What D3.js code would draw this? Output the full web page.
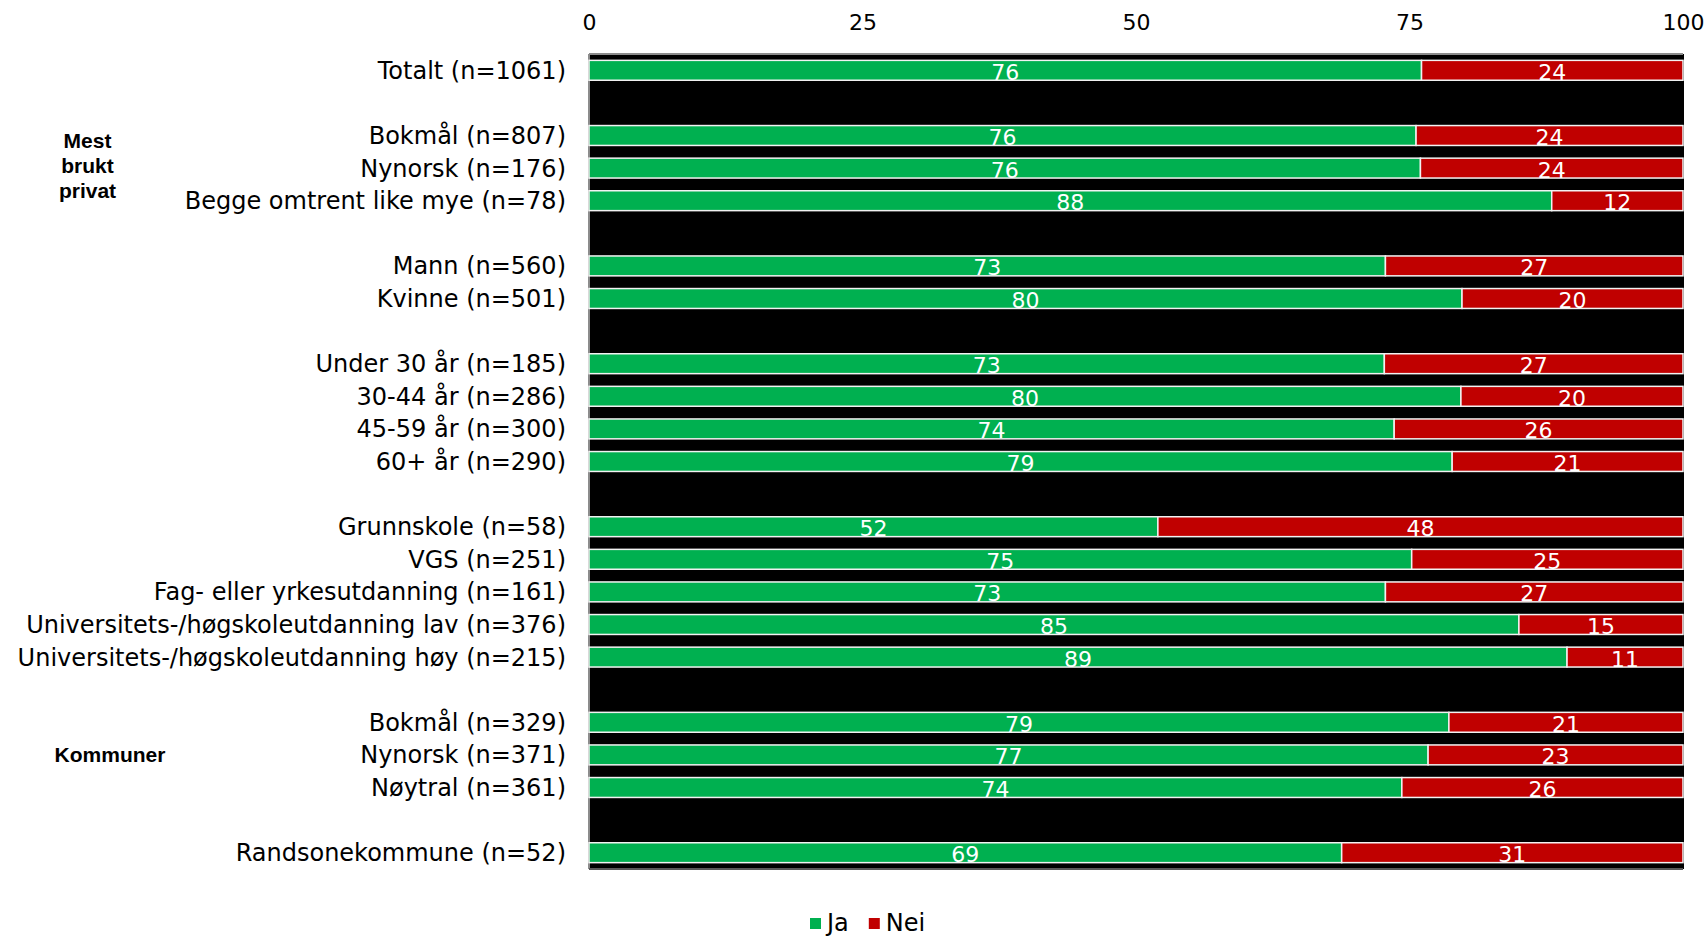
<!DOCTYPE html>
<html>
<head>
<meta charset="utf-8">
<script src="https://cdn.jsdelivr.net/npm/d3@7"></script>
<style>
  html, body { margin: 0; padding: 0; background: #fff; }
  svg { display: block; }
</style>
</head>
<body>
<svg id="chart" width="1706" height="937"></svg>
<script>
const categories = [
  "Totalt (n=1061)",
  "Bokmål (n=807)", "Nynorsk (n=176)", "Begge omtrent like mye (n=78)",
  "Mann (n=560)", "Kvinne (n=501)",
  "Under 30 år (n=185)", "30-44 år (n=286)", "45-59 år (n=300)", "60+ år (n=290)",
  "Grunnskole (n=58)", "VGS (n=251)", "Fag- eller yrkesutdanning (n=161)",
  "Universitets-/høgskoleutdanning lav (n=376)", "Universitets-/høgskoleutdanning høy (n=215)",
  "Bokmål (n=329)", "Nynorsk (n=371)", "Nøytral (n=361)",
  "Randsonekommune (n=52)"
];
const groupOf = [0, 1,1,1, 2,2, 3,3,3,3, 4,4,4,4,4, 5,5,5, 6];
const ja  = [76.1, 75.6, 76.0, 88.0, 72.8, 79.8, 72.7, 79.7, 73.6, 78.9, 52.0, 75.2, 72.8, 85.0, 89.4, 78.6, 76.7, 74.3, 68.8];
const nei = [23.9, 24.4, 24.0, 12.0, 27.2, 20.2, 27.3, 20.3, 26.4, 21.1, 48.0, 24.8, 27.2, 15.0, 10.6, 21.4, 23.3, 25.7, 31.2];
const seriesNames = ["Ja", "Nei"];
const seriesColors = ["#00B050", "#C00000"];
const xTicks = [0, 25, 50, 75, 100];
const sideLabels = [
  { lines: ["Mest", "brukt", "privat"], group: 1 },
  { lines: ["Kommuner"], group: 5 }
];

(function () {
const svg = d3.select("#chart");
const pL = 589, pR = 1683, pT = 54, pB = 869;
const nSlots = categories.length + d3.max(groupOf);
const slotOf = categories.map((c, i) => i + groupOf[i]);

const x = d3.scaleLinear().domain([0, 100]).range([pL, pR]);
const y = d3.scaleBand().domain(d3.range(nSlots)).range([pT, pB]).paddingInner(0.39).paddingOuter(0.195);

// plot background
svg.append("rect").attr("x", pL).attr("y", pT).attr("width", pR - pL + 1).attr("height", pB - pT).attr("fill", "#000");

// axis lines (gray)
svg.append("line").attr("x1", pL).attr("x2", pR).attr("y1", pT).attr("y2", pT).attr("stroke", "#8c8c8c").attr("stroke-width", 2);
svg.append("line").attr("x1", pL).attr("x2", pL).attr("y1", pT).attr("y2", pB).attr("stroke", "#8c8c8c").attr("stroke-width", 2);
svg.append("line").attr("x1", pL).attr("x2", pR).attr("y1", pB).attr("y2", pB).attr("stroke", "#595959").attr("stroke-width", 2);

// top axis tick labels
const xAxis = d3.axisTop(x).tickValues(xTicks).tickSize(0).tickPadding(0).tickFormat(d3.format("d"));
const gx = svg.append("g").attr("transform", "translate(0, 30)").call(xAxis);
gx.select(".domain").remove();
gx.selectAll("text").attr("font-family", "DejaVu Sans, Verdana, sans-serif").attr("font-size", 22).attr("fill", "#000").attr("dy", "0");

// bars
categories.forEach((c, i) => {
  const vals = [ja[i], nei[i]];
  let acc = 0;
  vals.forEach((v, k) => {
    const g = svg.append("g");
    const x0 = x(acc), x1 = x(acc + v);
    g.append("rect")
      .attr("x", x0).attr("y", y(slotOf[i]))
      .attr("width", x1 - x0).attr("height", y.bandwidth())
      .attr("fill", seriesColors[k])
      .attr("stroke", "#F2F2F2").attr("stroke-width", 1.5);
    g.append("text")
      .attr("x", (x0 + x1) / 2).attr("y", y(slotOf[i]) + y.bandwidth() / 2 + 9.5)
      .attr("text-anchor", "middle")
      .attr("font-family", "DejaVu Sans, Verdana, sans-serif").attr("font-size", 22)
      .attr("fill", "#fff")
      .text(d3.format(".0f")(v));
    acc += v;
  });
});

// category labels
svg.append("g").selectAll("text").data(categories).join("text")
  .attr("x", 566).attr("y", (d, i) => y(slotOf[i]) + y.bandwidth() / 2 + 8.5)
  .attr("text-anchor", "end")
  .attr("font-family", "DejaVu Sans, Verdana, sans-serif").attr("font-size", 24)
  .attr("fill", "#000")
  .text(d => d);

// side group labels
sideLabels.forEach(s => {
  const idx = groupOf.map((g, i) => g === s.group ? i : -1).filter(i => i >= 0);
  const cy = (y(slotOf[idx[0]]) + y(slotOf[idx[idx.length - 1]]) + y.bandwidth()) / 2;
  const lh = 25;
  const t = svg.append("text")
    .attr("text-anchor", "middle")
    .attr("font-family", "Liberation Sans, Arial, sans-serif").attr("font-weight", "bold").attr("font-size", 21)
    .attr("fill", "#000");
  s.lines.forEach((ln, j) => {
    t.append("tspan").attr("x", s.lines.length > 1 ? 87.5 : 110)
      .attr("y", cy + (j - (s.lines.length - 1) / 2) * lh + (s.lines.length > 1 ? 5 : 7)).text(ln);
  });
});

// legend
const legend = svg.append("g").attr("transform", "translate(810, 931)");
let lx = 0;
seriesNames.forEach((n, k) => {
  legend.append("rect").attr("x", lx).attr("y", -13).attr("width", 11).attr("height", 11).attr("fill", seriesColors[k]);
  const t = legend.append("text").attr("x", lx + 17).attr("y", 0)
    .attr("font-family", "DejaVu Sans, Verdana, sans-serif").attr("font-size", 24).attr("fill", "#000").text(n);
  lx += 17 + t.node().getComputedTextLength() + 20;
});
})();
</script>
</body>
</html>
